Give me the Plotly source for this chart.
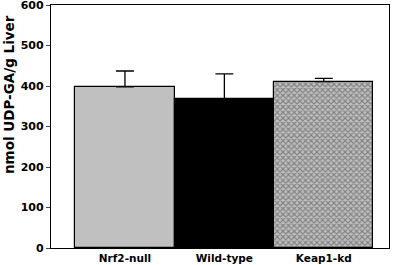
import plotly.graph_objects as go

categories = ["Nrf2-null", "Wild-type", "Keap1-kd"]
values = [398, 369, 411]
errors = [39, 61, 8]
y_ticks = [0, 100, 200, 300, 400, 500, 600]
y_title = "nmol UDP-GA/g Liver"

FONT = "DejaVu Sans"

fig = go.Figure()
fig.add_trace(go.Bar(
    x=categories, y=values,
    width=1.0,
    marker=dict(
        color=["#c0c0c0", "#000000", "#c0c0c0"],
        line=dict(color="black", width=1.2),
        pattern=dict(shape=["", "", "x"], fgcolor="black", bgcolor="#c0c0c0",
                     size=4, solidity=0.5),
    ),
    error_y=dict(type="data", symmetric=False, array=errors,
                 arrayminus=[0, 0, 0], color="black", thickness=1.3, width=9),
))

fig.update_layout(
    width=400, height=265,
    margin=dict(l=51, r=11, t=5, b=17),
    plot_bgcolor="white", paper_bgcolor="white",
    showlegend=False,
    bargap=0,
    font=dict(family=FONT, color="black"),
)
fig.update_xaxes(
    type="category", range=[-0.744, 2.656], automargin=False,
    tickvals=categories, ticktext=["<b>%s</b>" % c for c in categories],
    showline=True, linecolor="black", linewidth=1.3, mirror=True,
    ticks="", tickfont=dict(size=10.5, family=FONT),
)
fig.update_yaxes(
    range=[0, 600], tickvals=y_ticks, ticktext=["<b>%d</b>" % v for v in y_ticks],
    automargin=False, ticklabeloverflow="allow",
    showline=True, linecolor="black", linewidth=1.3, mirror=True,
    ticks="outside", ticklen=4, tickwidth=1.3, showgrid=False, zeroline=False,
    tickfont=dict(size=11, family=FONT),
)
fig.add_annotation(
    text="<b>%s</b>" % y_title, textangle=-90,
    xref="paper", yref="paper", x=-0.124, y=0.63,
    xanchor="center", yanchor="middle", showarrow=False,
    font=dict(size=13.5, family=FONT, color="black"),
)

fig.write_html("out.html", config={"displayModeBar": False})

with open("out.html", "r", encoding="utf-8") as f:
    html = f.read()
html = html.replace("<head>", "<head><style>html,body{margin:0;padding:0;overflow:hidden;}</style>", 1)
with open("out.html", "w", encoding="utf-8") as f:
    f.write(html)
